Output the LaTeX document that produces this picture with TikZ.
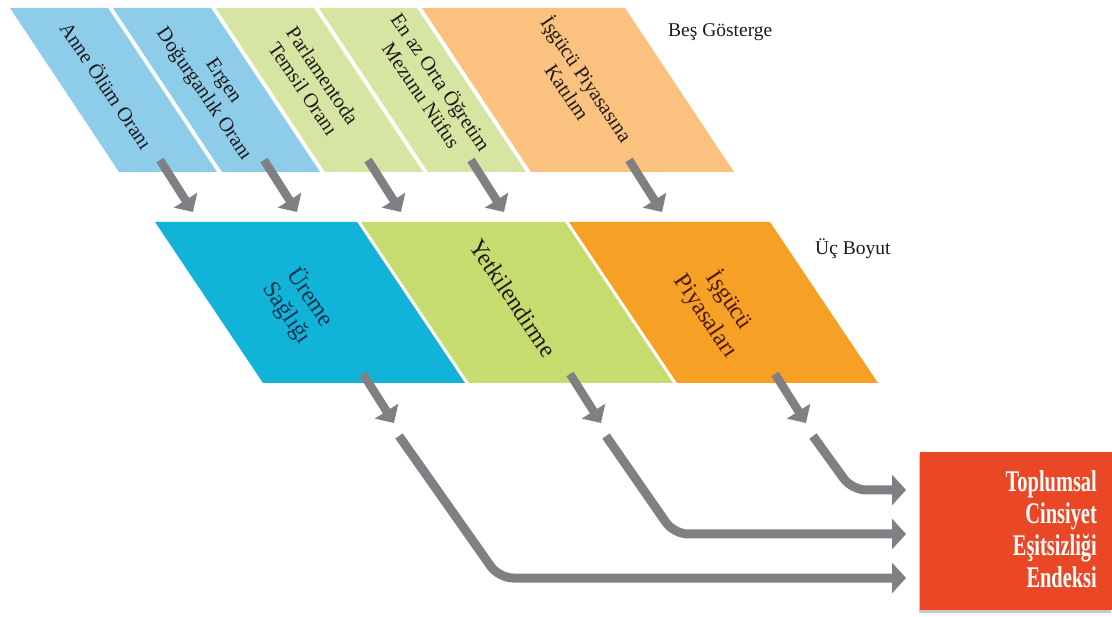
\documentclass[tikz,border=0pt]{standalone}
\usepackage{fontspec}
\setmainfont{Liberation Serif}
\usetikzlibrary{arrows.meta,shadows}
\definecolor{tblue}{HTML}{8DCDEA}
\definecolor{tgreen}{HTML}{D6E5A2}
\definecolor{torange}{HTML}{FBC27F}
\definecolor{mblue}{HTML}{12B3D8}
\definecolor{mgreen}{HTML}{C6DC6E}
\definecolor{morange}{HTML}{F6A026}
\definecolor{boxred}{HTML}{EA4726}
\definecolor{arrgray}{HTML}{808084}
\definecolor{txtdark}{HTML}{1E1A1A}
\definecolor{txtbrown}{HTML}{4A1A0C}
\definecolor{txtnavy}{HTML}{10324A}
\begin{document}
\begin{tikzpicture}[x=1pt,y=-1pt,
  toptext/.style={rotate=-56,align=center,font=\fontsize{20.5}{23.5}\selectfont,text=txtdark,inner sep=0},
  midtext/.style={rotate=-56,align=center,font=\fontsize{24}{28}\selectfont,text=txtdark,inner sep=0},
  garrow/.style={draw=arrgray,line width=8.5pt,-{Triangle[length=14pt,width=27pt]}},
  harrow/.style={draw=arrgray,line width=9pt,rounded corners=14pt,-{Triangle[length=14pt,width=30pt]}},
  plain/.style={font=\fontsize{19.5}{22}\selectfont,text=txtdark,inner sep=0}
  ]
\useasboundingbox (0,0) rectangle (1112,617);
\fill[white] (0,0) rectangle (1112,617);

% top row: five indicators
\fill[tblue]   (10,8)  -- (108,8) -- (217,172) -- (119,172) -- cycle;
\fill[tblue]   (113,8) -- (211,8) -- (320,172) -- (222,172) -- cycle;
\fill[tgreen]  (216,8) -- (314,8) -- (423,172) -- (325,172) -- cycle;
\fill[tgreen]  (319,8) -- (417,8) -- (526,172) -- (428,172) -- cycle;
\fill[torange] (422,8) -- (625,8) -- (734,172) -- (531,172) -- cycle;

\node[toptext] (i1) at (107,85) {Anne Ölüm Oranı};
\node[toptext] (i2) at (213,88) {Ergen\\Doğurganlık Oranı};
\node[toptext] (i3) at (313,82) {Parlamentoda\\Temsil Oranı};
\node[toptext] (i4) at (432,88) {En az Orta Öğretim\\Mezunu Nüfus};
\node[toptext] (i5) at (578,85) {İşgücü Piyasasına\\Katılım};

\node[plain,anchor=base west] (bes) at (668,37) {Beş Gösterge};

% middle row: three dimensions
\fill[mblue]   (155,222) -- (357,222) -- (465,383) -- (263,383) -- cycle;
\fill[mgreen]  (361,222) -- (565,222) -- (673,383) -- (469,383) -- cycle;
\fill[morange] (569,222) -- (770,222) -- (878,383) -- (677,383) -- cycle;

\node[midtext,text=txtnavy] (d1) at (299,305) {Üreme\\Sağlığı};
\node[midtext] (d2) at (513,298) {Yetkilendirme};
\node[midtext,text=txtbrown] (d3) at (718,308) {İşgücü\\Piyasaları};

\node[plain,anchor=base west] (uc) at (815,255) {Üç Boyut};

% index box
\node[fill=boxred,minimum width=192pt,minimum height=158pt,anchor=north west,inner sep=0,
      drop shadow={shadow xshift=-1pt,shadow yshift=-3pt,opacity=0.35,fill=black!60}] (gii) at (920,452) {};
\node[anchor=east,text=white,font=\bfseries\fontsize{30}{32}\selectfont,inner sep=0] (giitxt) at (1097,533)
  {\scalebox{0.68}[1]{\begin{tabular}{@{}r@{}}Toplumsal\\Cinsiyet\\Eşitsizliği\\Endeksi\end{tabular}}};

% arrows from indicators to dimensions
\coordinate (a1s) at (160,160); \coordinate (a1e) at (193,212);
\coordinate (a2s) at (264,160); \coordinate (a2e) at (297,212);
\coordinate (a3s) at (368,160); \coordinate (a3e) at (401,212);
\coordinate (a4s) at (471,160); \coordinate (a4e) at (504,212);
\coordinate (a5s) at (629,160); \coordinate (a5e) at (662,212);
\foreach \i in {1,...,5} {\draw[garrow] (a\i s) -- (a\i e);}

% arrows below dimensions
\coordinate (m1s) at (363,374); \coordinate (m1e) at (394,423);
\coordinate (m2s) at (570,374); \coordinate (m2e) at (601,423);
\coordinate (m3s) at (775,374); \coordinate (m3e) at (806,423);
\foreach \i in {1,2,3} {\draw[garrow] (m\i s) -- (m\i e);}

% connectors to index
\coordinate (b1s) at (399,436); \coordinate (b1c) at (499,578); \coordinate (b1e) at (906,578);
\coordinate (b2s) at (606,436); \coordinate (b2c) at (674,534); \coordinate (b2e) at (906,534);
\coordinate (b3s) at (813,436); \coordinate (b3c) at (852,490); \coordinate (b3e) at (906,490);
\foreach \i in {1,2,3} {\draw[harrow] (b\i s) -- (b\i c) -- (b\i e);}
\end{tikzpicture}
\end{document}
